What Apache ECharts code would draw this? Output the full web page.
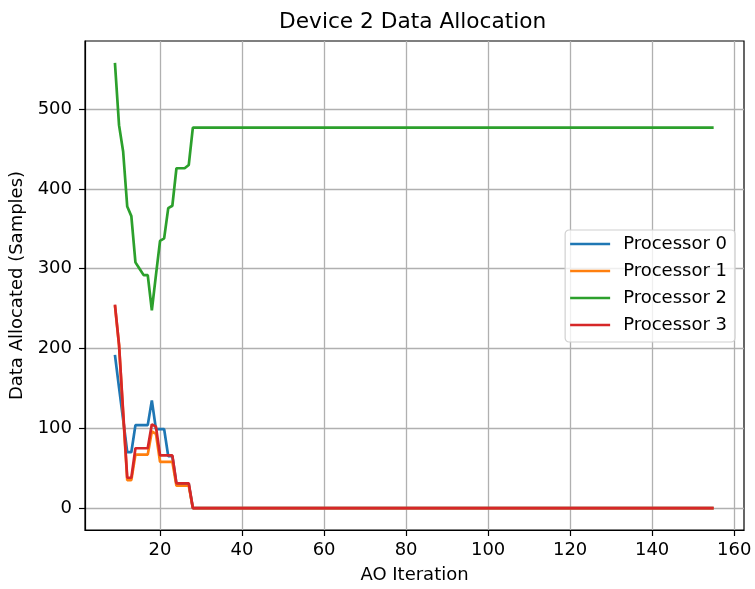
<!DOCTYPE html>
<html><head><meta charset="utf-8">
<script src="https://cdn.jsdelivr.net/npm/echarts@6/dist/echarts.min.js"></script>
<style>html,body{margin:0;padding:0;background:#fff}#c{width:755px;height:589px}</style>
</head><body><div id="c"></div>
<script>
const title = 'Device 2 Data Allocation';
const xName = 'AO Iteration';
const yName = 'Data Allocated (Samples)';
const seriesNames = ['Processor 0', 'Processor 1', 'Processor 2', 'Processor 3'];
const colors = ['#1f77b4', '#ff7f0e', '#2ca02c', '#d62728'];
const xTicks = [20, 40, 60, 80, 100, 120, 140, 160];
const yTicks = [0, 100, 200, 300, 400, 500];
const firstIteration = 9;
const proc0 = [192,151,111,70,70,104,104,104,104,135,99,99,99,65,65,30,30,30,30,
0,0,0,0,0,0,0,0,0,0,0,0,0,0,0,0,
0,0,0,0,0,0,0,0,0,0,0,0,0,0,0,0,
0,0,0,0,0,0,0,0,0,0,0,0,0,0,0,0,
0,0,0,0,0,0,0,0,0,0,0,0,0,0,0,0,
0,0,0,0,0,0,0,0,0,0,0,0,0,0,0,0,
0,0,0,0,0,0,0,0,0,0,0,0,0,0,0,0,
0,0,0,0,0,0,0,0,0,0,0,0,0,0,0,0,
0,0,0,0,0,0,0,0,0,0,0,0,0,0,0,0];
const proc1 = [254,204,118,35,35,67,67,67,67,96,93,58,58,58,58,28,28,28,28,
0,0,0,0,0,0,0,0,0,0,0,0,0,0,0,0,
0,0,0,0,0,0,0,0,0,0,0,0,0,0,0,0,
0,0,0,0,0,0,0,0,0,0,0,0,0,0,0,0,
0,0,0,0,0,0,0,0,0,0,0,0,0,0,0,0,
0,0,0,0,0,0,0,0,0,0,0,0,0,0,0,0,
0,0,0,0,0,0,0,0,0,0,0,0,0,0,0,0,
0,0,0,0,0,0,0,0,0,0,0,0,0,0,0,0,
0,0,0,0,0,0,0,0,0,0,0,0,0,0,0,0];
const proc2 = [558,480,447,378,366,308,300,292,292,248,292,335,338,376,379,426,426,426,430,
477,477,477,477,477,477,477,477,477,477,477,477,477,477,477,477,
477,477,477,477,477,477,477,477,477,477,477,477,477,477,477,477,
477,477,477,477,477,477,477,477,477,477,477,477,477,477,477,477,
477,477,477,477,477,477,477,477,477,477,477,477,477,477,477,477,
477,477,477,477,477,477,477,477,477,477,477,477,477,477,477,477,
477,477,477,477,477,477,477,477,477,477,477,477,477,477,477,477,
477,477,477,477,477,477,477,477,477,477,477,477,477,477,477,477,
477,477,477,477,477,477,477,477,477,477,477,477,477,477,477,477];
const proc3 = [255,205,121,38,38,75,75,75,75,105,102,66,66,66,66,31,31,31,31,
0,0,0,0,0,0,0,0,0,0,0,0,0,0,0,0,
0,0,0,0,0,0,0,0,0,0,0,0,0,0,0,0,
0,0,0,0,0,0,0,0,0,0,0,0,0,0,0,0,
0,0,0,0,0,0,0,0,0,0,0,0,0,0,0,0,
0,0,0,0,0,0,0,0,0,0,0,0,0,0,0,0,
0,0,0,0,0,0,0,0,0,0,0,0,0,0,0,0,
0,0,0,0,0,0,0,0,0,0,0,0,0,0,0,0,
0,0,0,0,0,0,0,0,0,0,0,0,0,0,0,0];
const allSeries = [proc0, proc1, proc2, proc3];

const FONT = 'DejaVu Sans';
const chart = echarts.init(document.getElementById('c'), null, {renderer: 'canvas'});
const pairs = vals => vals.map((v, i) => [firstIteration + i, v]);
const inList = (list, v) => list.some(t => Math.abs(t - v) < 1e-6);

chart.setOption({
  animation: false,
  backgroundColor: '#fff',
  title: {text: title, left: 274, top: 6,
    textStyle: {fontFamily: FONT, fontSize: 21.7, fontWeight: 'normal', color: '#000'}},
  grid: {left: 85, right: 11, top: 41, bottom: 57, show: true, borderColor: '#000', borderWidth: 1.2, containLabel: false},
  legend: {
    orient: 'vertical', right: 20, top: 230, data: seriesNames,
    icon: 'path://M0,0 L40,0 L40,2.7 L0,2.7 Z', itemWidth: 40, itemHeight: 2.7, itemGap: 9,
    padding: [5, 8, 8, 5],
    backgroundColor: 'rgba(255,255,255,0.8)', borderColor: '#d0d0d0', borderWidth: 1.2, borderRadius: 4,
    textStyle: {fontFamily: FONT, fontSize: 18, color: '#000', padding: [0, 0, 0, 8]}
  },
  xAxis: {
    type: 'value', min: 1.7, max: 162.4, splitNumber: 8,
    name: xName, nameLocation: 'middle', nameGap: 36,
    nameTextStyle: {fontFamily: FONT, fontSize: 18, color: '#000'},
    axisLine: {show: true, onZero: false, lineStyle: {color: '#000', width: 1.2}},
    axisTick: {show: true, inside: false, length: 6, customValues: xTicks, lineStyle: {color: '#000', width: 1.2}},
    axisLabel: {fontFamily: FONT, fontSize: 18, color: '#000', margin: 11, customValues: xTicks,
      formatter: v => inList(xTicks, v) ? String(Math.round(v)) : ''},
    splitLine: {show: true, lineStyle: {color: '#b0b0b0', width: 1.3}}
  },
  yAxis: {
    type: 'value', min: -27.5, max: 585.5, splitNumber: 6,
    name: yName, nameLocation: 'middle', nameGap: 55, nameRotate: 90,
    nameTextStyle: {fontFamily: FONT, fontSize: 18, color: '#000'},
    axisLine: {show: true, onZero: false, lineStyle: {color: '#000', width: 1.2}},
    axisTick: {show: true, inside: false, length: 6, customValues: yTicks, lineStyle: {color: '#000', width: 1.2}},
    axisLabel: {fontFamily: FONT, fontSize: 18, color: '#000', margin: 13, customValues: yTicks,
      formatter: v => inList(yTicks, v) ? String(Math.round(v)) : ''},
    splitLine: {show: true, lineStyle: {color: '#b0b0b0', width: 1.3}}
  },
  series: allSeries.map((vals, i) => ({
    name: seriesNames[i], type: 'line', data: pairs(vals),
    showSymbol: false, symbol: 'none', clip: true,
    lineStyle: {color: colors[i], width: 2.7}, itemStyle: {color: colors[i]}
  }))
});
</script></body></html>
